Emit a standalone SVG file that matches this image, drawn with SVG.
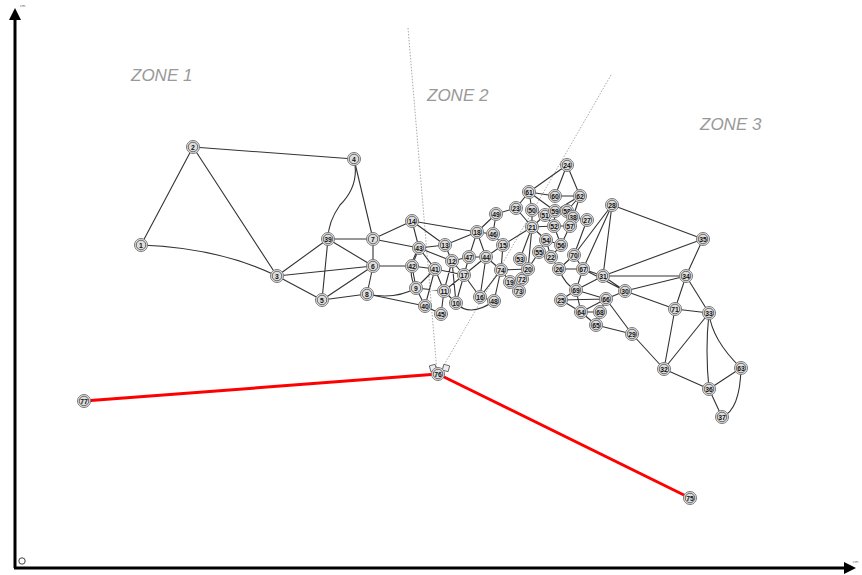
<svg xmlns="http://www.w3.org/2000/svg" width="862" height="575" viewBox="0 0 862 575">
<style>
.e{stroke:#333;stroke-width:1.1;fill:none}
.r{stroke:#f00;stroke-width:3;fill:none}
.d{stroke:#aaa;stroke-width:1;stroke-dasharray:1.5 1.5;fill:none}
.o{fill:#eee;stroke:#777;stroke-width:1}
.i{fill:#ddd;stroke:#444;stroke-width:0.8}
.t{font-family:"Liberation Sans",Arial,sans-serif;font-size:6.8px;font-weight:bold;fill:#111;text-anchor:middle;dominant-baseline:central}
.z{font-family:"Liberation Sans",Arial,sans-serif;font-size:17px;font-style:italic;fill:#999}
.ax{stroke:#000;stroke-width:3;fill:none}
</style>
<defs>
<marker id="ar" viewBox="0 0 10 10" refX="5" refY="5" markerWidth="4" markerHeight="5" orient="auto"><path d="M0,0L10,5L0,10z" fill="#000"/></marker>
<g id="n"><circle class="o" r="6.5"/><circle class="i" r="4.8"/></g>
</defs>
<rect width="862" height="575" fill="#fff"/>
<g id="axes">
<line class="ax" x1="15" y1="568" x2="15" y2="14" marker-end="url(#ar)"/>
<line class="ax" x1="14" y1="568" x2="850" y2="568" marker-end="url(#ar)"/>
<text x="20" y="7" font-family="Liberation Sans,sans-serif" font-size="4" fill="#666">cm</text>
<text x="853" y="563" font-family="Liberation Sans,sans-serif" font-size="4" fill="#666">cm</text>
<circle cx="22" cy="561" r="3.2" fill="none" stroke="#444" stroke-width="1"/>
</g>
<g id="zones">
<text class="z" x="131" y="81">ZONE 1</text>
<text class="z" x="427" y="101">ZONE 2</text>
<text class="z" x="700" y="130">ZONE 3</text>
<line class="d" x1="408" y1="28" x2="437" y2="372"/>
<line class="d" x1="611" y1="75" x2="440" y2="372"/>
</g>
<g id="edges">
<line class="r" x1="84" y1="401" x2="438" y2="374"/>
<line class="r" x1="438" y1="374" x2="690" y2="498"/>
<path class="e" d="M141,245L193,147M193,147L277,276M193,147L354,159M354,159L373,239M328,239L373,239M328,239L277,276M328,239L373,266M328,239L322,300M277,276L373,266M277,276L322,300M322,300L373,266M322,300L367,294M373,239L373,266M373,266L367,294M367,294L425,306M373,239L412,221M373,239L419,248M373,266L412,266"/>
<path class="e" d="M141,245Q220,248 277,276M354,159Q360,185 340,205Q328,222 328,239M367,294Q395,300 416,288M419,248Q405,270 416,288M456,303Q470,318 494,301M709,313Q712,340 741,368M741,368Q740,410 722,417M709,313Q705,350 709,389"/>
<path class="e" d="M412,221L477,232M412,221L419,248M412,221L445,245M419,248L445,245M419,248L412,266M419,248L435,269M419,248L452,261M445,245L477,232M445,245L452,261M477,232L469,257M477,232L486,257M477,232L493,234M469,257L452,261M469,257L486,257M469,257L464,275M452,261L464,275M452,261L444,291M452,261L456,303M412,266L435,269M412,266L416,288M435,269L416,288M435,269L425,306M435,269L444,291M435,269L464,275M416,288L444,291M416,288L425,306M444,291L456,303M444,291L441,314M444,291L464,275M464,275L480,297M464,275L456,303M464,275L486,257M425,306L441,314M480,297L486,257M480,297L501,270M480,297L494,301M486,257L501,270M486,257L503,245M493,234L503,245M496,214L493,234M496,214L477,232M496,214L516,208M503,245L501,270M503,245L532,227M501,270L510,282M501,270L528,269M501,270L494,301M510,282L519,291M510,282L522,279M522,279L519,291M522,279L528,269M528,269L520,259M528,269L539,252M528,269L532,227M520,259L532,227M539,252L546,240M539,252L551,257M546,240L532,227M546,240L551,257M551,257L561,245M546,240L561,245M551,257L559,269"/>
<path class="e" d="M532,227L516,208M532,227L532,210M532,227L545,215M532,227L554,226M516,208L529,192M529,192L532,210M529,192L567,165M529,192L555,196M529,192L555,211M555,196L567,165M555,196L580,196M567,165L580,196M580,196L567,211M580,196L555,211M580,196L573,217M532,210L545,215M545,215L555,211M545,215L554,226M555,211L567,211M555,211L554,226M567,211L573,217M567,211L570,226M554,226L570,226M573,217L570,226M573,217L587,220M570,226L561,245M554,226L561,245M587,220L574,255"/>
<path class="e" d="M612,205L574,255M612,205L583,269M612,205L603,276M612,205L703,239M574,255L583,269M574,255L559,269M559,269L583,269M559,269Q565,285 576,290M583,269L603,276M583,269L625,291M583,269L576,290M603,276L625,291M603,276L576,290M603,276L686,276M603,276L703,239M576,290L561,300M576,290L581,312M576,290L606,299M561,300L606,299M561,300L581,312M606,299L581,312M606,299L600,312M606,299L625,291M606,299L632,334M581,312L600,312M581,312L596,325M600,312L596,325M596,325L632,334M625,291L686,276M625,291L675,309M632,334L664,369M703,239L686,276M686,276L675,309M686,276L709,313M675,309L709,313M675,309L664,369M664,369L709,313M664,369L709,389M741,368L709,389M709,389L722,417"/>
</g>
<g id="nodes">
<g id="n1"><use href="#n" x="141" y="245"/><text class="t" x="141" y="245">1</text></g>
<g id="n2"><use href="#n" x="193" y="147"/><text class="t" x="193" y="147">2</text></g>
<g id="n3"><use href="#n" x="277" y="276"/><text class="t" x="277" y="276">3</text></g>
<g id="n4"><use href="#n" x="354" y="159"/><text class="t" x="354" y="159">4</text></g>
<g id="n5"><use href="#n" x="322" y="300"/><text class="t" x="322" y="300">5</text></g>
<g id="n6"><use href="#n" x="373" y="266"/><text class="t" x="373" y="266">6</text></g>
<g id="n7"><use href="#n" x="373" y="239"/><text class="t" x="373" y="239">7</text></g>
<g id="n8"><use href="#n" x="367" y="294"/><text class="t" x="367" y="294">8</text></g>
<g id="n39"><use href="#n" x="328" y="239"/><text class="t" x="328" y="239">39</text></g>
<g id="n14"><use href="#n" x="412" y="221"/><text class="t" x="412" y="221">14</text></g>
<g id="n43"><use href="#n" x="419" y="248"/><text class="t" x="419" y="248">43</text></g>
<g id="n42"><use href="#n" x="412" y="266"/><text class="t" x="412" y="266">42</text></g>
<g id="n9"><use href="#n" x="416" y="288"/><text class="t" x="416" y="288">9</text></g>
<g id="n41"><use href="#n" x="435" y="269"/><text class="t" x="435" y="269">41</text></g>
<g id="n40"><use href="#n" x="425" y="306"/><text class="t" x="425" y="306">40</text></g>
<g id="n45"><use href="#n" x="441" y="314"/><text class="t" x="441" y="314">45</text></g>
<g id="n11"><use href="#n" x="444" y="291"/><text class="t" x="444" y="291">11</text></g>
<g id="n10"><use href="#n" x="456" y="303"/><text class="t" x="456" y="303">10</text></g>
<g id="n13"><use href="#n" x="445" y="245"/><text class="t" x="445" y="245">13</text></g>
<g id="n12"><use href="#n" x="452" y="261"/><text class="t" x="452" y="261">12</text></g>
<g id="n47"><use href="#n" x="469" y="257"/><text class="t" x="469" y="257">47</text></g>
<g id="n17"><use href="#n" x="464" y="275"/><text class="t" x="464" y="275">17</text></g>
<g id="n16"><use href="#n" x="480" y="297"/><text class="t" x="480" y="297">16</text></g>
<g id="n18"><use href="#n" x="477" y="232"/><text class="t" x="477" y="232">18</text></g>
<g id="n46"><use href="#n" x="493" y="234"/><text class="t" x="493" y="234">46</text></g>
<g id="n44"><use href="#n" x="486" y="257"/><text class="t" x="486" y="257">44</text></g>
<g id="n15"><use href="#n" x="503" y="245"/><text class="t" x="503" y="245">15</text></g>
<g id="n49"><use href="#n" x="496" y="214"/><text class="t" x="496" y="214">49</text></g>
<g id="n74"><use href="#n" x="501" y="270"/><text class="t" x="501" y="270">74</text></g>
<g id="n48"><use href="#n" x="494" y="301"/><text class="t" x="494" y="301">48</text></g>
<g id="n19"><use href="#n" x="510" y="282"/><text class="t" x="510" y="282">19</text></g>
<g id="n72"><use href="#n" x="522" y="279"/><text class="t" x="522" y="279">72</text></g>
<g id="n73"><use href="#n" x="519" y="291"/><text class="t" x="519" y="291">73</text></g>
<g id="n20"><use href="#n" x="528" y="269"/><text class="t" x="528" y="269">20</text></g>
<g id="n53"><use href="#n" x="520" y="259"/><text class="t" x="520" y="259">53</text></g>
<g id="n55"><use href="#n" x="539" y="252"/><text class="t" x="539" y="252">55</text></g>
<g id="n22"><use href="#n" x="551" y="257"/><text class="t" x="551" y="257">22</text></g>
<g id="n54"><use href="#n" x="546" y="240"/><text class="t" x="546" y="240">54</text></g>
<g id="n56"><use href="#n" x="561" y="245"/><text class="t" x="561" y="245">56</text></g>
<g id="n21"><use href="#n" x="532" y="227"/><text class="t" x="532" y="227">21</text></g>
<g id="n23"><use href="#n" x="516" y="208"/><text class="t" x="516" y="208">23</text></g>
<g id="n50"><use href="#n" x="532" y="210"/><text class="t" x="532" y="210">50</text></g>
<g id="n61"><use href="#n" x="529" y="192"/><text class="t" x="529" y="192">61</text></g>
<g id="n60"><use href="#n" x="555" y="196"/><text class="t" x="555" y="196">60</text></g>
<g id="n62"><use href="#n" x="580" y="196"/><text class="t" x="580" y="196">62</text></g>
<g id="n24"><use href="#n" x="567" y="165"/><text class="t" x="567" y="165">24</text></g>
<g id="n51"><use href="#n" x="545" y="215"/><text class="t" x="545" y="215">51</text></g>
<g id="n59"><use href="#n" x="555" y="211"/><text class="t" x="555" y="211">59</text></g>
<g id="n58"><use href="#n" x="567" y="211"/><text class="t" x="567" y="211">58</text></g>
<g id="n38"><use href="#n" x="573" y="217"/><text class="t" x="573" y="217">38</text></g>
<g id="n52"><use href="#n" x="554" y="226"/><text class="t" x="554" y="226">52</text></g>
<g id="n57"><use href="#n" x="570" y="226"/><text class="t" x="570" y="226">57</text></g>
<g id="n27"><use href="#n" x="587" y="220"/><text class="t" x="587" y="220">27</text></g>
<g id="n70"><use href="#n" x="574" y="255"/><text class="t" x="574" y="255">70</text></g>
<g id="n26"><use href="#n" x="559" y="269"/><text class="t" x="559" y="269">26</text></g>
<g id="n67"><use href="#n" x="583" y="269"/><text class="t" x="583" y="269">67</text></g>
<g id="n31"><use href="#n" x="603" y="276"/><text class="t" x="603" y="276">31</text></g>
<g id="n28"><use href="#n" x="612" y="205"/><text class="t" x="612" y="205">28</text></g>
<g id="n69"><use href="#n" x="576" y="290"/><text class="t" x="576" y="290">69</text></g>
<g id="n25"><use href="#n" x="561" y="300"/><text class="t" x="561" y="300">25</text></g>
<g id="n66"><use href="#n" x="606" y="299"/><text class="t" x="606" y="299">66</text></g>
<g id="n30"><use href="#n" x="625" y="291"/><text class="t" x="625" y="291">30</text></g>
<g id="n64"><use href="#n" x="581" y="312"/><text class="t" x="581" y="312">64</text></g>
<g id="n68"><use href="#n" x="600" y="312"/><text class="t" x="600" y="312">68</text></g>
<g id="n65"><use href="#n" x="596" y="325"/><text class="t" x="596" y="325">65</text></g>
<g id="n29"><use href="#n" x="632" y="334"/><text class="t" x="632" y="334">29</text></g>
<g id="n35"><use href="#n" x="703" y="239"/><text class="t" x="703" y="239">35</text></g>
<g id="n34"><use href="#n" x="686" y="276"/><text class="t" x="686" y="276">34</text></g>
<g id="n71"><use href="#n" x="675" y="309"/><text class="t" x="675" y="309">71</text></g>
<g id="n33"><use href="#n" x="709" y="313"/><text class="t" x="709" y="313">33</text></g>
<g id="n32"><use href="#n" x="664" y="369"/><text class="t" x="664" y="369">32</text></g>
<g id="n63"><use href="#n" x="741" y="368"/><text class="t" x="741" y="368">63</text></g>
<g id="n36"><use href="#n" x="709" y="389"/><text class="t" x="709" y="389">36</text></g>
<g id="n37"><use href="#n" x="722" y="417"/><text class="t" x="722" y="417">37</text></g>
<g id="n77"><use href="#n" x="84" y="401"/><text class="t" x="84" y="401">77</text></g>
<g id="n75"><use href="#n" x="690" y="498"/><text class="t" x="690" y="498">75</text></g>
<g id="n76"><rect x="430" y="365" width="6" height="6" fill="#eee" stroke="#555" stroke-width="0.8" transform="rotate(-15 433 368)"/><rect x="443" y="365" width="6" height="6" fill="#eee" stroke="#555" stroke-width="0.8" transform="rotate(15 446 368)"/><use href="#n" x="438" y="374"/><text class="t" x="438" y="374">76</text></g>
</g>
</svg>
